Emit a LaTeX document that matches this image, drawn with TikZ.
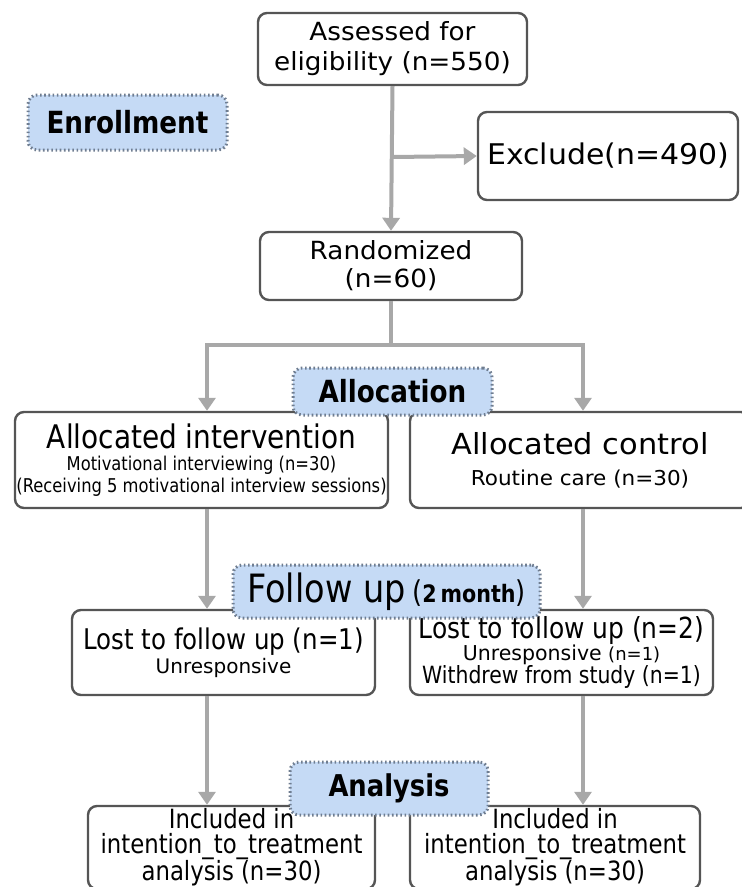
\documentclass[tikz,border=0pt]{standalone}
\usepackage{fontspec}
\setmainfont{DejaVu Sans}
\newfontfamily\condf[FakeStretch=0.86]{DejaVu Sans}
\newfontfamily\wide[FakeStretch=1.05]{DejaVu Sans}
\usetikzlibrary{arrows.meta}
\definecolor{boxline}{HTML}{555555}
\definecolor{conn}{HTML}{A8A8A8}
\definecolor{bluefill}{HTML}{C5DAF5}
\definecolor{bluedot}{HTML}{6F7D90}
\tikzset{
  box/.style={draw=boxline, line width=2.4pt, rounded corners=9pt, fill=white, inner sep=0pt, align=center, text=black},
  tag/.style={draw=bluedot, line width=3pt, dash pattern=on 1.6pt off 2.6pt, rounded corners=9pt, fill=bluefill, inner sep=0pt, align=center, text=black},
  link/.style={draw=conn, line width=4pt},
  arr/.style={link, -{Triangle[length=13pt,width=17pt]}},
}
\begin{document}
\begin{tikzpicture}[x=1pt,y=-1pt]
\useasboundingbox (0,0) rectangle (742,887);
% boxes
\node[box, minimum width=269pt, minimum height=72pt, font=\wide\fontsize{25}{30}\selectfont] (assess) at (392.5,49) {Assessed for\\ eligibility (n=550)};
\node[box, minimum width=260pt, minimum height=88pt, font=\wide\fontsize{28.5}{32}\selectfont] (exclude) at (608,156) {Exclude(n=490)};
\node[box, minimum width=262pt, minimum height=68pt, font=\wide\fontsize{25}{28}\selectfont] (random) at (391,266) {Randomized\\ (n=60)};
\node[box, minimum width=373pt, minimum height=96pt, font=\condf\fontsize{19}{22}\selectfont] (interv) at (201.5,460) {{\fontsize{32.5}{38}\selectfont Allocated intervention}\\ Motivational interviewing (n=30)\\ (Receiving 5 motivational interview sessions)};
\node[box, minimum width=340pt, minimum height=96pt, font=\wide\fontsize{20.5}{31}\selectfont] (control) at (580,460) {{\fontsize{29}{32}\selectfont Allocated control}\\ Routine care (n=30)};
\node[box, minimum width=303pt, minimum height=85pt, font=\condf\fontsize{28.5}{30}\selectfont] (lost1) at (223.5,652.5) {Lost to follow up (n=1)\\[-6pt] {\normalfont\fontsize{20}{22}\selectfont Unresponsive}};
\node[box, minimum width=303pt, minimum height=85pt, font=\condf\fontsize{23.7}{22}\selectfont] (lost2) at (561.5,652.5) {{\fontsize{29}{28}\selectfont Lost to follow up (n=2)}\\ {\normalfont\fontsize{20.5}{21}\selectfont Unresponsive \fontsize{18}{20}\selectfont(n=1)}\\ Withdrew from study (n=1)};
\node[box, minimum width=287pt, minimum height=83pt, font=\condf\fontsize{26.5}{24.5}\selectfont] (incl1) at (231.5,847.5) {Included in\\ intention\_to\_treatment\\ analysis (n=30)};
\node[box, minimum width=290pt, minimum height=83pt, font=\condf\fontsize{26.5}{24.5}\selectfont] (incl2) at (555,847.5) {Included in\\ intention\_to\_treatment\\ analysis (n=30)};
% connectors
\coordinate (br) at (assess.south |- 0,157);
\coordinate (split) at (random.south |- 0,345);
\coordinate (sl) at (207,345);
\coordinate (sr) at (583,345);
\draw[arr] (assess.south) -- (random.north);
\draw[arr] (br) -- (exclude.west);
\draw[link] (random.south) -- (split);
\draw[arr] (split) -- (sl) -- (sl |- interv.north);
\draw[arr] (split) -- (sr) -- (sr |- control.north);
\draw[arr] (sl |- interv.south) -- (sl |- lost1.north);
\draw[arr] (sr |- control.south) -- (sr |- lost2.north);
\draw[arr] (sl |- lost1.south) -- (sl |- incl1.north);
\draw[arr] (sr |- lost2.south) -- (sr |- incl2.north);
% tags
\node[tag, minimum width=199pt, minimum height=55pt, font=\condf\bfseries\fontsize{30.5}{30}\selectfont] (enroll) at (127.5,122.5) {Enrollment};
\node[tag, minimum width=199pt, minimum height=47pt, font=\condf\bfseries\fontsize{30.5}{30}\selectfont] (alloc) at (392.5,391.5) {Allocation};
\node[tag, minimum width=307pt, minimum height=53pt, font=\condf\fontsize{39}{36}\selectfont] (follow) at (386.5,591.5) {Follow up\,{\fontsize{30}{30}\selectfont(}{\bfseries\fontsize{24}{30}\selectfont 2\,month}{\fontsize{30}{30}\selectfont)}};
\node[tag, minimum width=198pt, minimum height=53pt, font=\condf\bfseries\fontsize{30}{30}\selectfont] (analysis) at (389,788.5) {Analysis};
\end{tikzpicture}
\end{document}
